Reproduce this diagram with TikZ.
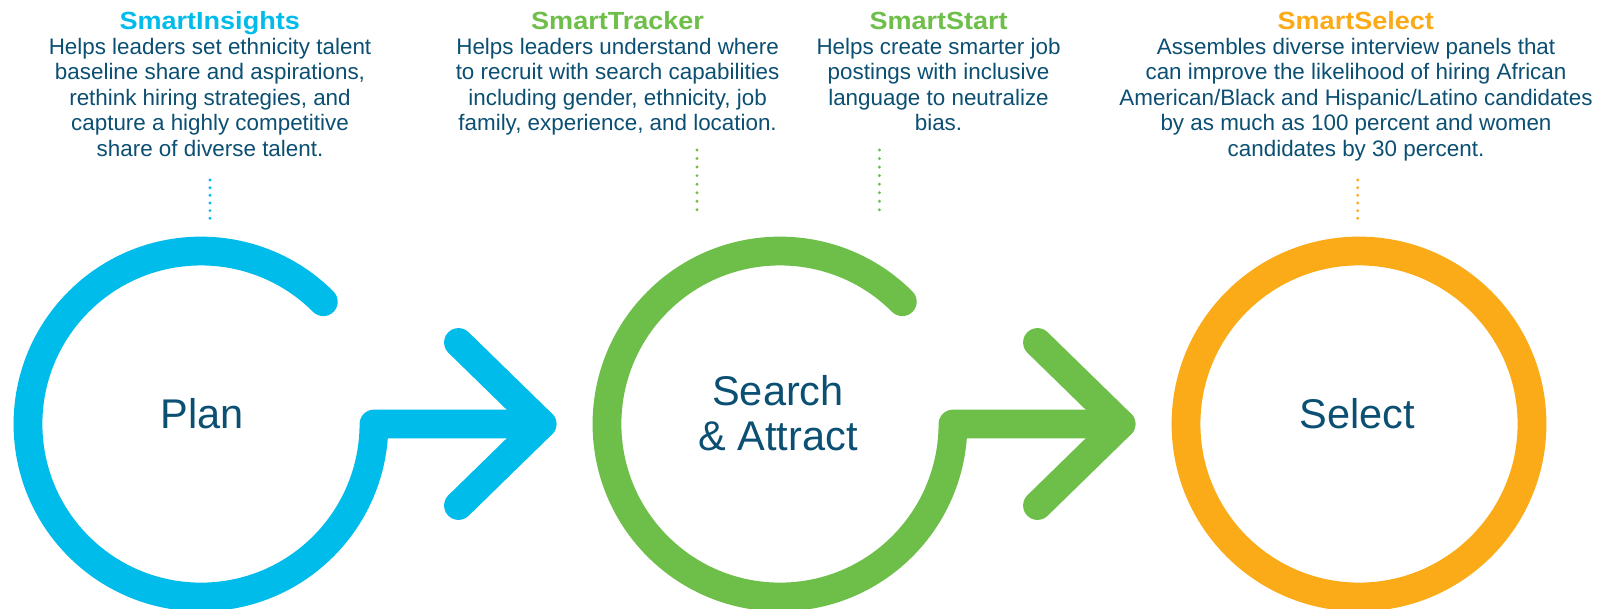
\documentclass[tikz,border=0pt]{standalone}
\usepackage{fontspec}
\setmainfont{Liberation Sans}
\newfontfamily\titlefont[FakeStretch=1.09]{Liberation Sans}
\usetikzlibrary{calc}
\definecolor{ciscyan}{HTML}{00BCEB}
\definecolor{cisgreen}{HTML}{6EBE4A}
\definecolor{cisorange}{HTML}{FBAB18}
\definecolor{cistext}{HTML}{0B4F73}
\tikzset{
  ring/.style={line width=28.8pt, line cap=round, line join=round},
  dotline/.style={line width=3.2pt, line cap=round, dash pattern=on 0pt off #1},
  title/.style={anchor=base, inner sep=0pt, font=\titlefont\bfseries\fontsize{24.8}{28}\selectfont},
  body/.style={anchor=base, inner sep=0pt, align=center, text=cistext, font=\fontsize{22.4}{25.5}\selectfont},
  label/.style={inner sep=0pt, align=center, text=cistext, font=\fontsize{41.5}{45.7}\selectfont}
}
\begin{document}
\begin{tikzpicture}[x=1pt, y=-1pt]
\fill[white] (0,0) rectangle (1606,608);
\useasboundingbox (0,0) rectangle (1606,608);

% circle centres
\coordinate (c1) at (201,424);
\coordinate (c2) at (780,424);
\coordinate (c3) at (1359,424);

% Plan ring + arrow
\coordinate (s1) at ($(c1)+(122.3,-122.3)$);
\coordinate (v1) at ($(c1)+(341,0)$);
\coordinate (u1) at ($(c1)+(257.5,-81.5)$);
\coordinate (l1) at ($(c1)+(257.5,81.5)$);
\draw[ring, ciscyan] (s1) arc[start angle=-45, end angle=-360, radius=173] -- (v1);
\draw[ring, ciscyan] (u1) -- (v1) -- (l1);

% Search & Attract ring + arrow
\coordinate (s2) at ($(c2)+(122.3,-122.3)$);
\coordinate (v2) at ($(c2)+(341,0)$);
\coordinate (u2) at ($(c2)+(257.5,-81.5)$);
\coordinate (l2) at ($(c2)+(257.5,81.5)$);
\draw[ring, cisgreen] (s2) arc[start angle=-45, end angle=-360, radius=173] -- (v2);
\draw[ring, cisgreen] (u2) -- (v2) -- (l2);

% Select ring
\draw[ring, cisorange] (c3) circle[radius=173];

% labels in circles (base = last line's baseline)
\node[label, anchor=base] (plan) at (202,428.3) {Plan};
\node[label, anchor=base] (search) at (778,450.7) {Search\\\& Attract};
\node[label, anchor=base] (select) at (1357,428.3) {Select};

% dotted connectors
\coordinate (d1a) at (210,180);    \coordinate (d1b) at (210,218.3);
\coordinate (d2a) at (697,150);    \coordinate (d2b) at (697,218.3);
\coordinate (d3a) at (879.4,150);  \coordinate (d3b) at (879.4,218.3);
\coordinate (d4a) at (1357.7,180); \coordinate (d4b) at (1357.7,218.3);
\draw[dotline=7.66pt, ciscyan] (d1a) -- (d1b);
\draw[dotline=8.54pt, cisgreen] (d2a) -- (d2b);
\draw[dotline=8.54pt, cisgreen] (d3a) -- (d3b);
\draw[dotline=7.66pt, cisorange] (d4a) -- (d4b);

% titles
\node[title, text=ciscyan] (t1) at (209.7,29.3) {SmartInsights};
\node[title, text=cisgreen] (t2) at (617.6,29.3) {SmartTracker};
\node[title, text=cisgreen] (t3) at (938.6,29.3) {SmartStart};
\node[title, text=cisorange] (t4) at (1355.8,29.3) {SmartSelect};

% bodies (base = last line's baseline; first baseline 54.4, pitch 25.5)
\node[body] (b1) at (210,156.4) {Helps leaders set ethnicity talent\\baseline share and aspirations,\\rethink hiring strategies, and\\capture a highly competitive\\share of diverse talent.};
\node[body] (b2) at (617.6,130.9) {Helps leaders understand where\\to recruit with search capabilities\\including gender, ethnicity, job\\family, experience, and location.};
\node[body] (b3) at (938.5,130.9) {Helps create smarter job\\postings with inclusive\\language to neutralize\\bias.};
\node[body] (b4) at (1356,156.4) {Assembles diverse interview panels that\\can improve the likelihood of hiring African\\American/Black and Hispanic/Latino candidates\\by as much as 100 percent and women\\candidates by 30 percent.};
\end{tikzpicture}
\end{document}
